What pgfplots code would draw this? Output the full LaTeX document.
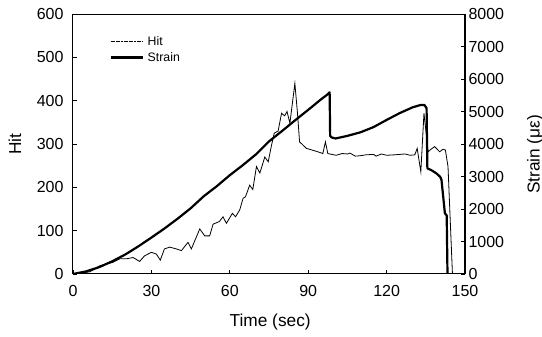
\documentclass[border=0pt]{standalone}
\usepackage{pgfplots}
\pgfplotsset{compat=1.18}
\usepackage{fontspec}
\setmainfont{Liberation Sans}
\begin{document}
\begin{tikzpicture}[x=1pt,y=1pt]
\useasboundingbox (0,0) rectangle (542,337);
\pgfplotsset{
  every axis/.append style={
    /pgf/number format/assume math mode=true,
    /pgf/number format/1000 sep={},
    tick label style={font=\fontsize{16}{19}\selectfont},
    label style={font=\fontsize{17.3}{20}\selectfont},
    tick align=inside,
    major tick length=4pt,
    axis line style={line width=1pt},
    every tick/.style={black, line width=0.8pt},
  }
}
\begin{axis}[
  at={(73pt,63pt)}, anchor=south west,
  width=392pt, height=260pt, scale only axis,
  xmin=0, xmax=150, ymin=0, ymax=600,
  xtick={0,30,60,90,120,150},
  ytick={0,100,200,300,400,500,600},
  xtick pos=bottom, ytick pos=left,
  xticklabel style={yshift=-8pt},
  yticklabel style={xshift=-6pt},
  xlabel={Time (sec)}, ylabel={Hit},
  xlabel style={at={(axis description cs:0.503,-0.185)}, anchor=center},
  ylabel style={at={(axis description cs:-0.148,0.5)}, anchor=center},
]
\addplot[black, line width=0.8pt] coordinates {
(0,0) (3,2) (6.4,5) (8,10) (10.2,19) (12.8,23) (15.3,27) (17.9,35) (20.4,35)
(23,38) (25.5,29) (27.4,42) (30,50) (31.9,46) (33.4,32) (35,58) (37,62)
(39.5,58) (41.5,54) (44,73) (45.3,58) (48.5,104) (50.4,88) (52.3,88)
(53.6,115) (56,121) (57.4,132) (58.7,117) (61,140) (62.2,132) (63.8,148)
(65.1,175) (66,178) (67.6,205) (68.8,195) (70.2,248) (71.5,233) (73.4,270)
(74.7,259) (76,298) (77,325) (78.5,330) (79.8,371) (81,365) (81.9,375)
(83,348) (84.9,440) (85.9,371) (86.7,305) (89.3,290) (93.7,282) (95.6,278)
(96.6,305) (97.5,278) (100.7,274) (103,278) (105,277) (106,279) (108,272)
(110,273) (112,275) (115,276) (116,272) (118,277) (120,274) (123,275)
(125,276) (127,277) (129,274) (130.8,275) (131.7,290) (133.1,236)
(134.3,371) (135.9,282) (137,288) (138.4,294) (140.3,282) (141.6,288)
(142.5,286) (143.5,248) (145.2,0)
};
\end{axis}
\begin{axis}[
  at={(73pt,63pt)}, anchor=south west,
  width=392pt, height=260pt, scale only axis,
  xmin=0, xmax=150, ymin=0, ymax=8000,
  axis x line=none, axis y line*=right,
  ytick={0,1000,2000,3000,4000,5000,6000,7000,8000},
  ylabel={Strain (με)},
  ylabel style={at={(axis description cs:1.179,0.46)}, anchor=center, rotate=0},
  legend style={at={(axis description cs:0.085,0.93)}, anchor=north west,
    draw=none, fill=none, font=\fontsize{12.3}{14}\selectfont, row sep=1.5pt,
    legend cell align=left,
    nodes={inner xsep=4pt}},
  legend image code/.code={\draw[#1] (0pt,0pt) -- (32pt,0pt);},
]
\addlegendimage{black, line width=0.8pt, dash pattern=on 2pt off 0.6pt}
\addlegendentry{Hit}
\addplot[black, line width=2.2pt, line join=round] coordinates {
(0,0) (5,80) (10,210) (15,390) (20,600) (25,850) (30,1120) (35,1400)
(40,1700) (45,2020) (50,2390) (55,2700) (60,3040) (65,3350) (70,3680)
(75,4080) (80,4400) (85,4730) (90,5050) (95,5380) (97,5500) (98.2,5590)
(98.4,4250) (99,4200) (100.5,4170) (105,4250) (110,4360) (115,4520)
(120,4740) (125,4950) (130,5130) (133,5200) (134.5,5200) (135.3,5100)
(135.6,3250) (137,3200) (139,3100) (140.5,2990) (141,2900) (142.3,1870)
(143,1800) (143.3,0)
};
\addlegendentry{Strain}
\end{axis}
\end{tikzpicture}
\end{document}
